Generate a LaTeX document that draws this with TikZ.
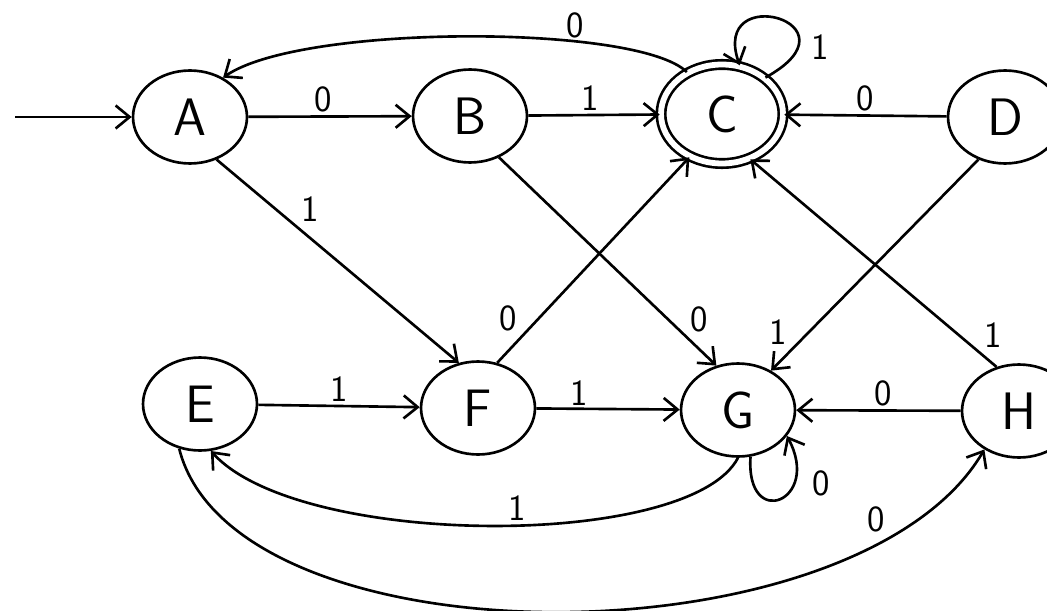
\documentclass[tikz,border=0pt]{standalone}
\usepackage{tikz}
\usetikzlibrary{arrows.meta,shapes.geometric}

\begin{document}
\begin{tikzpicture}[x=0.02cm,y=-0.02cm,line width=1.5pt,
    state/.style={draw,ellipse,inner sep=0pt,minimum width=2.28cm,minimum height=1.86cm,
      font=\sffamily\fontsize{30}{30}\selectfont},
    accept/.style={state,double,double distance=3.3pt,outer sep=auto,
      minimum width=2.44cm,minimum height=1.98cm},
    edge/.style={-{Straight Barb[length=2.8mm,width=4.6mm]}},
    lbl/.style={font=\sffamily\fontsize{21}{21}\selectfont,inner sep=2pt}]
			%%%%% START %%%%%
			\useasboundingbox (0,0) rectangle (1047,611);

			% states, top row
			\node[state]  (A) at (190,117) {A};
			\node[state]  (B) at (470,116) {B};
			\node[accept] (C) at (722,114) {C};
			\node[state]  (D) at (1005,117) {D};

			% states, bottom row
			\node[state] (E) at (200,404) {E};
			\node[state] (F) at (478,408) {F};
			\node[state] (G) at (738,410) {G};
			\node[state] (H) at (1019,411) {H};

			\coordinate (start) at (15,117);
			\draw[edge] (start) -- (A);

			% top row
			\draw[edge] (A) -- node[lbl,pos=.46,above] (tAB) {0} (B);
			\draw[edge] (B) -- node[lbl,pos=.47,above] (tBC) {1} (C);
			\draw[edge] (D) -- node[lbl,pos=.5,above] (tDC) {0} (C);
			\draw[edge] (C.40) .. controls +(100,-55) and +(-30,-85) .. node[lbl,pos=.2,right=5pt] (tCC) {1} (C.70);
			\draw[edge] (C.130) .. controls +(-48,-48) and +(78,-54) .. node[lbl,pos=.31,above,inner sep=1pt] (tCA) {0} (A.50);

			% diagonals
			\draw[edge] (A.-58) -- node[lbl,pos=.33,above right] (tAF) {1} (F.113);
			\draw[edge] (B.-55) -- node[lbl,pos=.86,above right] (tBG) {0} (G.116);
			\draw[edge] (F.67) -- node[lbl,pos=.13,above left] (tFC) {0} (C.-127);
			\draw[edge] (D.-122) -- node[lbl,pos=.9,above left] (tDG) {1} (G.50);
			\draw[edge] (H.117) -- node[lbl,pos=.07,above right] (tHC) {1} (C.-58);

			% bottom row
			\draw[edge] (E) -- node[lbl,pos=.5,above] (tEF) {1} (F);
			\draw[edge] (F) -- node[lbl,pos=.3,above,inner sep=1pt] (tFG) {1} (G);
			\draw[edge] (H) -- node[lbl,pos=.47,above] (tHG) {0} (G);
			\draw[edge] (G.-75) .. controls +(-5,75) and +(35,65) .. node[lbl,pos=.7,right=8pt] (tGG) {0} (G.-28);

			% long arcs underneath
			\draw[edge] (G.-90) .. controls +(-48,92) and +(89,98) .. node[lbl,pos=.46,above] (tGE) {1} (E.-77);
			\draw[edge] (E.-115) .. controls +(55,218) and +(-127,216) .. node[lbl,pos=.84,above left] (tEH) {0} (H.-132);
			%%%%% END %%%%%
\end{tikzpicture}
\end{document}
